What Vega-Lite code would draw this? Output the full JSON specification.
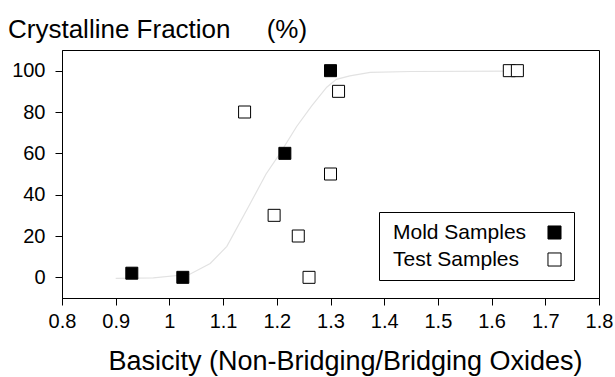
{
  "$schema": "https://vega.github.io/schema/vega-lite/v6.json",
  "width": 537,
  "height": 248,
  "autosize": "none",
  "padding": {"left": 62, "top": 50, "right": 16, "bottom": 79},
  "background": "white",
  "config": {
    "view": {"stroke": "black", "strokeWidth": 1},
    "font": "Liberation Sans"
  },
  "title": {
    "text": "Crystalline Fraction\u00a0\u00a0\u00a0\u00a0\u00a0(%)",
    "anchor": "start",
    "frame": "group",
    "dx": -54,
    "dy": 28,
    "offset": 14,
    "baseline": "alphabetic",
    "fontSize": 26,
    "fontWeight": "normal",
    "font": "Liberation Sans",
    "color": "black"
  },
  "datasets": {
    "curve": [
      {"b": 0.9, "f": -0.5},
      {"b": 0.97, "f": -0.3},
      {"b": 1.038, "f": 1.5},
      {"b": 1.076, "f": 6.7},
      {"b": 1.107, "f": 15},
      {"b": 1.147, "f": 34},
      {"b": 1.18, "f": 50},
      {"b": 1.206, "f": 60},
      {"b": 1.237, "f": 73},
      {"b": 1.265, "f": 83},
      {"b": 1.293, "f": 92},
      {"b": 1.311, "f": 95.8},
      {"b": 1.336, "f": 97.5},
      {"b": 1.374, "f": 99.2},
      {"b": 1.45, "f": 99.6},
      {"b": 1.645, "f": 99.8}
    ],
    "samples": [
      {"b": 0.93, "f": 2, "series": "Mold Samples"},
      {"b": 1.025, "f": 0, "series": "Mold Samples"},
      {"b": 1.215, "f": 60, "series": "Mold Samples"},
      {"b": 1.3, "f": 100, "series": "Mold Samples"},
      {"b": 1.14, "f": 80, "series": "Test Samples"},
      {"b": 1.195, "f": 30, "series": "Test Samples"},
      {"b": 1.24, "f": 20, "series": "Test Samples"},
      {"b": 1.26, "f": 0, "series": "Test Samples"},
      {"b": 1.3, "f": 50, "series": "Test Samples"},
      {"b": 1.315, "f": 90, "series": "Test Samples"},
      {"b": 1.633, "f": 100, "series": "Test Samples"},
      {"b": 1.648, "f": 100, "series": "Test Samples"}
    ]
  },
  "layer": [
    {
      "data": {"name": "curve"},
      "mark": {"type": "line", "color": "#e2e2e2", "strokeWidth": 1.2},
      "encoding": {
        "x": {
          "field": "b",
          "type": "quantitative",
          "scale": {"domain": [0.8, 1.8], "nice": false, "zero": false},
          "axis": {
            "title": "Basicity (Non-Bridging/Bridging Oxides)",
            "titleFont": "Liberation Sans",
            "titleFontSize": 27,
            "titleFontWeight": "normal",
            "titleColor": "black",
            "titlePadding": 17,
            "titleX": 283,
            "values": [0.8, 0.85, 0.9, 0.95, 1.0, 1.05, 1.1, 1.15, 1.2, 1.25, 1.3, 1.35, 1.4, 1.45, 1.5, 1.55, 1.6, 1.65, 1.7, 1.75, 1.8],
            "labelExpr": "abs(datum.value*10 - round(datum.value*10)) < 0.001 ? format(datum.value, '.1~f') : ''",
            "labelOverlap": false,
            "labelFlush": false,
            "labelFont": "Liberation Sans",
            "labelFontSize": 20,
            "labelColor": "black",
            "labelPadding": 6,
            "grid": false,
            "domainColor": "black",
            "domainWidth": 1,
            "tickColor": "black",
            "tickWidth": 1,
            "tickSize": {"condition": {"test": "abs(datum.value*10 - round(datum.value*10)) < 0.001", "value": 7}, "value": 4}
          }
        },
        "y": {
          "field": "f",
          "type": "quantitative",
          "scale": {"domain": [-10, 110], "nice": false, "zero": false},
          "axis": {
            "title": null,
            "values": [0, 10, 20, 30, 40, 50, 60, 70, 80, 90, 100],
            "labelExpr": "datum.value % 20 == 0 ? datum.label : ''",
            "labelOverlap": false,
            "labelFont": "Liberation Sans",
            "labelFontSize": 20,
            "labelColor": "black",
            "labelPadding": 10,
            "grid": false,
            "domainColor": "black",
            "domainWidth": 1,
            "tickColor": "black",
            "tickWidth": 1,
            "tickSize": {"condition": {"test": "datum.value % 20 == 0", "value": 7}, "value": 4}
          }
        }
      }
    },
    {
      "data": {"name": "samples"},
      "mark": {"type": "point", "shape": "square", "filled": true, "stroke": "black", "strokeWidth": 1, "size": 144, "opacity": 1},
      "encoding": {
        "x": {"field": "b", "type": "quantitative"},
        "y": {"field": "f", "type": "quantitative"},
        "fill": {
          "field": "series",
          "type": "nominal",
          "scale": {"domain": ["Mold Samples", "Test Samples"], "range": ["black", "white"]},
          "legend": {
            "orient": "none",
            "legendX": 317,
            "legendY": 162,
            "title": null,
            "symbolType": "square",
            "symbolSize": 170,
            "symbolStrokeColor": "black",
            "symbolStrokeWidth": 1,
            "symbolOpacity": 1,
            "symbolOffset": 155,
            "labelFontSize": 21,
            "labelFont": "Liberation Sans",
            "labelColor": "black",
            "labelAlign": "left",
            "labelOffset": -172,
            "labelLimit": 300,
            "fillColor": "white",
            "strokeColor": "black",
            "padding": 10,
            "rowPadding": 5
          }
        }
      }
    }
  ]
}
